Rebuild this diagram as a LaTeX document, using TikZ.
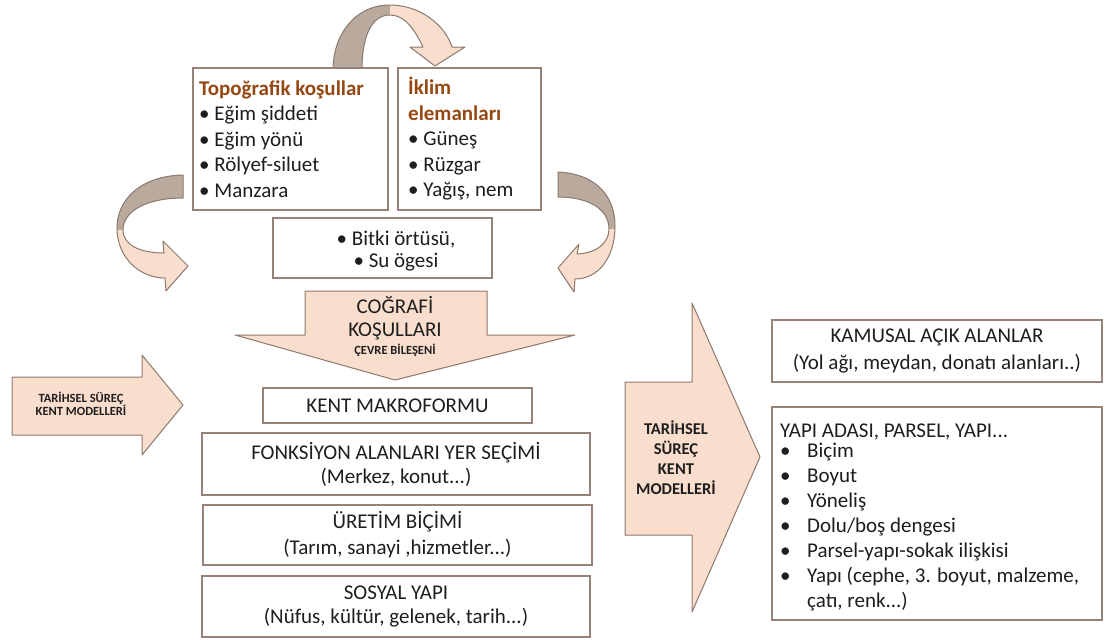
\documentclass[tikz,border=0pt]{standalone}
\usepackage{fontspec}
\setmainfont{Carlito}
\definecolor{peach}{RGB}{250,222,205}
\definecolor{backtan}{RGB}{186,170,158}
\definecolor{shapeedge}{RGB}{140,120,108}
\definecolor{boxedge}{RGB}{150,130,118}
\definecolor{titlebrown}{RGB}{150,72,18}
\definecolor{txt}{RGB}{30,30,30}
\begin{document}
\begin{tikzpicture}[x=1pt,y=-1pt,
  box/.style={draw=boxedge,line width=1.3pt,fill=white,inner sep=0pt,text=txt,
              font=\fontsize{21}{25}\selectfont,align=center},
  shp/.style={draw=shapeedge,line width=1pt,line join=round},
  lbl/.style={text=txt,inner sep=0pt,align=center}]
\useasboundingbox (0,0) rectangle (1106,640);

% ---- curved arrows
\def\toparc{(333,70) .. controls (333,36) and (354,5) .. (390,5) .. controls (420,5) and (445,25) .. (452,47) -- (465,47) -- (435,66) -- (410,47) -- (423,47) .. controls (414,28) and (404,15) .. (390,15) .. controls (372,15) and (362,35) .. (362,70) -- cycle}
\begin{scope}
  \clip \toparc;
  \fill[peach] (320,0) rectangle (480,80);
  \fill[backtan] (320,0) rectangle (390,80);
\end{scope}
\draw[shp] \toparc;

\def\leftarc{(183,175) .. controls (140,176) and (117,200) .. (117,228) .. controls (117,258) and (140,278) .. (165,278) -- (166,291) -- (188,266) -- (163,241) -- (164,253) .. controls (140,253) and (123,245) .. (123,230) .. controls (123,212) and (145,198) .. (183,198) -- cycle}
\begin{scope}
  \clip \leftarc;
  \fill[peach] (100,160) rectangle (200,300);
  \fill[backtan] (100,160) rectangle (200,230);
\end{scope}
\draw[shp] \leftarc;

\def\rightarc{(558,172) .. controls (598,174) and (615,198) .. (615,226) .. controls (615,258) and (598,279) .. (575,279) -- (574,292) -- (558,268) -- (579,244) -- (577,254) .. controls (598,253) and (609,242) .. (609,229) .. controls (609,210) and (590,197) .. (558,197) -- cycle}
\begin{scope}
  \clip \rightarc;
  \fill[peach] (540,160) rectangle (630,300);
  \fill[backtan] (540,160) rectangle (630,229);
\end{scope}
\draw[shp] \rightarc;

% ---- top boxes
\node[box,minimum width=195pt,minimum height=142pt] (topo) at (290.5,139) {};
\node[lbl,align=left,anchor=west,font=\fontsize{21}{25.5}\selectfont] (topotext) at (199,139)
 {\textcolor{titlebrown}{\textbf{Topoğrafik koşullar}}\\
  • Eğim şiddeti\\ • Eğim yönü\\ • Rölyef-siluet\\ • Manzara};
\node[box,minimum width=143pt,minimum height=142pt] (iklim) at (469.5,139) {};
\node[lbl,align=left,anchor=west,font=\fontsize{21}{25.5}\selectfont] (iklimtext) at (408,139)
 {\textcolor{titlebrown}{\textbf{İklim}}\\
  \textcolor{titlebrown}{\textbf{elemanları}}\\
  • Güneş\\ • Rüzgar\\ • Yağış, nem};

\node[box,minimum width=219pt,minimum height=60pt] (bitki) at (382.5,248) {};
\node[lbl,font=\fontsize{21}{22}\selectfont] (bitkitext) at (396,251)
 {• Bitki örtüsü,\\ • Su ögesi};

% ---- COĞRAFİ arrow
\draw[shp,fill=peach] (305,291) -- (487,291) -- (487,335) -- (575,335) -- (395,380)
  -- (235,335) -- (305,335) -- cycle;
\node[lbl,font=\fontsize{21}{23}\selectfont] (cog1) at (395,318.5) {COĞRAFİ\\ KOŞULLARI};
\node[lbl,font=\fontsize{12.5}{14}\selectfont\bfseries] (cog2) at (395,350) {ÇEVRE BİLEŞENİ};

% ---- left small arrow
\draw[shp,fill=peach] (12,377) -- (142,377) -- (142,355) -- (183,405) -- (142,455)
  -- (142,435) -- (12,435) -- cycle;
\node[lbl,font=\fontsize{12.5}{13}\selectfont\bfseries] (tar1) at (81,404)
 {TARİHSEL SÜREÇ\\ KENT MODELLERİ};

% ---- big right arrow
\draw[shp,fill=peach] (625,382) -- (692,382) -- (692,303) -- (760,457) -- (692,612)
  -- (692,535) -- (625,535) -- cycle;
\node[lbl,font=\fontsize{16.5}{20}\selectfont\bfseries] (tar2) at (676,458)
 {TARİHSEL\\ SÜREÇ\\ KENT\\ MODELLERİ};

% ---- left column
\node[box,minimum width=269pt,minimum height=35pt] (kent) at (397.5,405.5) {KENT MAKROFORMU};
\node[box,minimum width=388pt,minimum height=62pt,font=\fontsize{21}{24}\selectfont] (fonk) at (396,464)
 {FONKSİYON ALANLARI YER SEÇİMİ\\ (Merkez, konut...)};
\node[box,minimum width=389pt,minimum height=60pt,font=\fontsize{21}{26}\selectfont] (uretim) at (397.5,535)
 {ÜRETİM BİÇİMİ\\ (Tarım, sanayi ,hizmetler...)};
\node[box,minimum width=388pt,minimum height=61pt,font=\fontsize{21}{24}\selectfont] (sosyal) at (396,606.5)
 {SOSYAL YAPI\\ (Nüfus, kültür, gelenek, tarih...)};

% ---- right column
\node[box,minimum width=330pt,minimum height=62pt,font=\fontsize{21}{27}\selectfont] (kamusal) at (937,351)
 {KAMUSAL AÇIK ALANLAR\\ (Yol ağı, meydan, donatı alanları..)};
\node[box,minimum width=330pt,minimum height=213pt] (yapi) at (937,513.5) {};
\node[lbl,align=left,anchor=north west,font=\fontsize{21}{25}\selectfont] (yapitext) at (780,423.5)
 {YAPI ADASI, PARSEL, YAPI...\\[-5pt]
  \makebox[27pt][l]{•}Biçim\\
  \makebox[27pt][l]{•}Boyut\\
  \makebox[27pt][l]{•}Yöneliş\\
  \makebox[27pt][l]{•}Dolu/boş dengesi\\
  \makebox[27pt][l]{•}Parsel-yapı-sokak ilişkisi\\
  \makebox[27pt][l]{•}Yapı (cephe, 3. boyut, malzeme,\\
  \hspace*{27pt}çatı, renk...)};
\end{tikzpicture}
\end{document}
